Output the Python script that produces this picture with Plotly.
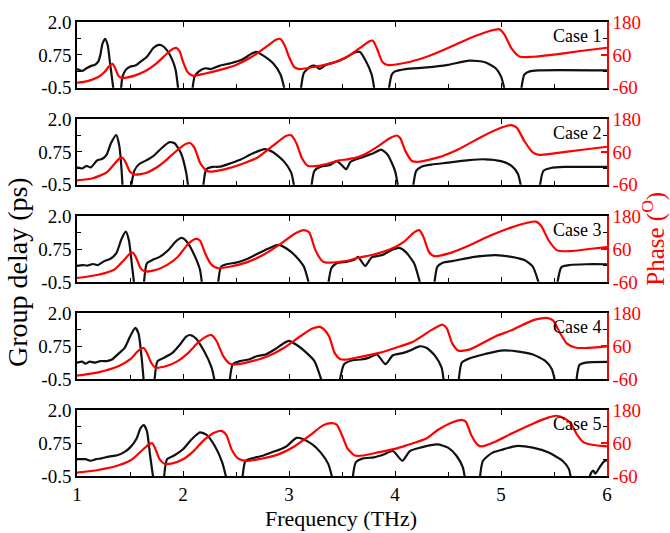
import plotly.graph_objects as go

# ---------------- data ----------------
freq_ticks = [1, 2, 3, 4, 5, 6]
gd_ticks = [-0.5, 0.75, 2.0]
gd_ticktext = ["-0.5", "0.75", "2.0"]
ph_ticks = [-60, 60, 180]
case_labels = ["Case 1", "Case 2", "Case 3", "Case 4", "Case 5"]

N = (None, None)

gd1 = [(1.00,0.21),(1.05,0.14),(1.09,0.24),(1.14,0.34),(1.17,0.37),(1.20,0.49),(1.22,0.74),(1.24,1.17),(1.266,1.36),(1.29,1.11),(1.31,0.49),(1.33,-0.13),(1.345,-0.6),N,
       (1.414,-0.6),(1.43,-0.07),(1.46,0.18),(1.50,0.30),(1.55,0.34),(1.60,0.49),(1.66,0.68),(1.72,1.01),(1.77,1.13),(1.80,1.11),(1.85,0.92),(1.90,0.55),(1.93,0.18),(1.956,-0.6),N,
       (2.088,-0.6),(2.11,-0.07),(2.15,0.12),(2.21,0.24),(2.26,0.21),(2.35,0.34),(2.45,0.43),(2.55,0.55),(2.65,0.80),(2.69,0.86),(2.75,0.74),(2.85,0.43),(2.92,0.0),(2.96,-0.6),N,
       (3.111,-0.6),(3.14,0.06),(3.20,0.30),(3.24,0.34),(3.29,0.22),(3.35,0.37),(3.45,0.49),(3.55,0.68),(3.62,0.84),(3.67,0.86),(3.72,0.55),(3.78,0.0),(3.807,-0.6),N,
       (3.94,-0.6),(3.97,0.0),(4.0,0.12),(4.1,0.21),(4.3,0.27),(4.5,0.37),(4.7,0.53),(4.85,0.47),(4.95,0.24),(5.0,-0.07),(5.036,-0.6),N,
       (5.19,-0.6),(5.22,0.0),(5.27,0.12),(5.35,0.16),(6.0,0.16)]
ph1 = [(1.0,-42),(1.10,-36),(1.20,-21),(1.26,-3),(1.30,17),(1.335,27),(1.36,11),(1.39,-16),(1.42,-24),(1.48,-22),(1.55,-15),(1.65,2),(1.75,29),(1.85,65),(1.91,83),(1.94,85),(1.97,71),(2.00,35),(2.04,-1),(2.09,-16),
       (2.20,-9),(2.35,5),(2.50,23),(2.65,53),(2.80,94),(2.88,116),(2.92,118),(2.96,94),(3.00,53),(3.05,15),(3.10,8),(3.25,17),(3.40,29),(3.55,53),(3.70,94),(3.76,110),(3.79,112),(3.83,83),(3.88,35),(3.93,23),
       (4.1,31),(4.3,53),(4.5,85),(4.7,120),(4.90,148),(4.98,154),(5.03,136),(5.10,83),(5.18,53),(5.3,53),(5.5,61),(5.75,74),(6.0,86)]

gd2 = [(1.0,0.16),(1.05,0.12),(1.09,0.22),(1.13,0.16),(1.19,0.43),(1.24,0.49),(1.28,0.65),(1.32,1.08),(1.37,1.39),(1.40,0.96),(1.42,0.09),(1.43,-0.6),N,
       (1.51,-0.6),(1.54,0.03),(1.59,0.30),(1.64,0.40),(1.72,0.59),(1.80,0.90),(1.87,1.12),(1.92,1.08),(1.98,0.71),(2.03,-0.03),(2.05,-0.6),N,
       (2.19,-0.6),(2.22,0.09),(2.28,0.18),(2.35,0.19),(2.45,0.32),(2.55,0.47),(2.65,0.68),(2.77,0.86),(2.85,0.74),(2.95,0.40),(3.02,-0.03),(3.05,-0.6),N,
       (3.21,-0.6),(3.24,0.03),(3.30,0.19),(3.38,0.24),(3.45,0.40),(3.50,0.24),(3.54,0.09),(3.58,0.37),(3.68,0.53),(3.80,0.71),(3.87,0.84),(3.93,0.65),(4.00,0.03),(4.03,-0.6),N,
       (4.17,-0.6),(4.20,0.03),(4.25,0.19),(4.35,0.27),(4.50,0.34),(4.70,0.44),(4.85,0.47),(5.0,0.40),(5.10,0.22),(5.16,-0.09),(5.19,-0.6),N,
       (5.365,-0.6),(5.40,0.03),(5.47,0.14),(5.6,0.18),(6.0,0.18)]
ph2 = [(1.0,-44),(1.15,-36),(1.28,-15),(1.35,15),(1.40,36),(1.43,39),(1.46,21),(1.50,-12),(1.55,-23),(1.65,-17),(1.75,3),(1.85,33),(1.95,68),(2.03,90),(2.07,92),(2.11,74),(2.16,21),(2.22,-9),(2.27,-12),
       (2.40,-3),(2.55,15),(2.70,39),(2.85,83),(2.97,118),(3.02,121),(3.07,92),(3.12,39),(3.18,9),(3.30,11),(3.40,21),(3.47,29),(3.55,33),(3.65,41),(3.75,59),(3.85,83),(3.95,110),(4.02,120),(4.05,110),(4.10,62),(4.16,27),(4.22,24),
       (4.40,39),(4.60,70),(4.80,112),(5.00,148),(5.10,158),(5.15,148),(5.22,100),(5.30,58),(5.36,49),(5.50,55),(5.75,67),(6.0,79)]

gd3 = [(1.0,0.11),(1.05,0.14),(1.10,0.12),(1.15,0.18),(1.20,0.14),(1.25,0.27),(1.32,0.39),(1.37,0.58),(1.42,1.13),(1.46,1.41),(1.49,1.07),(1.52,0.08),(1.54,-0.6),N,
       (1.63,-0.6),(1.66,0.21),(1.71,0.33),(1.78,0.45),(1.86,0.70),(1.94,1.07),(1.99,1.17),(2.04,1.01),(2.10,0.58),(2.16,-0.04),(2.18,-0.6),N,
       (2.33,-0.6),(2.36,0.08),(2.42,0.18),(2.50,0.23),(2.58,0.33),(2.68,0.52),(2.80,0.76),(2.90,0.91),(2.98,0.76),(3.07,0.45),(3.14,0.08),(3.19,-0.6),N,
       (3.37,-0.6),(3.40,0.02),(3.45,0.21),(3.55,0.27),(3.62,0.35),(3.65,0.45),(3.72,0.11),(3.78,0.43),(3.88,0.52),(3.98,0.73),(4.04,0.79),(4.10,0.64),(4.18,0.21),(4.24,-0.6),N,
       (4.37,-0.6),(4.40,0.08),(4.45,0.23),(4.55,0.30),(4.75,0.45),(4.95,0.52),(5.10,0.45),(5.22,0.33),(5.30,0.08),(5.36,-0.6),N,
       (5.53,-0.6),(5.57,0.06),(5.65,0.14),(5.8,0.17),(6.0,0.17)]
ph3 = [(1.0,-46),(1.20,-34),(1.35,-16),(1.43,14),(1.50,43),(1.53,46),(1.56,26),(1.60,-10),(1.64,-22),(1.75,-16),(1.85,2),(1.95,31),(2.05,79),(2.12,97),(2.16,91),(2.21,43),(2.27,2),(2.33,-10),
       (2.45,-4),(2.60,11),(2.75,37),(2.90,73),(3.05,115),(3.14,129),(3.19,121),(3.25,55),(3.32,14),(3.38,10),(3.55,17),(3.65,28),(3.80,40),(3.95,58),(4.08,85),(4.18,121),(4.23,129),(4.27,103),(4.32,49),(4.37,34),
       (4.50,43),(4.70,73),(4.90,109),(5.10,139),(5.25,156),(5.33,160),(5.38,144),(5.45,91),(5.53,55),(5.65,52),(5.85,61),(6.0,67)]

gd4 = [(1.0,0.12),(1.05,0.16),(1.08,0.08),(1.12,0.16),(1.17,0.12),(1.22,0.18),(1.28,0.18),(1.33,0.24),(1.40,0.49),(1.45,0.68),(1.50,1.11),(1.55,1.44),(1.58,1.23),(1.61,0.30),(1.63,-0.6),N,
       (1.73,-0.6),(1.76,0.18),(1.82,0.30),(1.90,0.49),(1.97,0.80),(2.03,1.11),(2.07,1.17),(2.12,1.05),(2.20,0.55),(2.27,-0.07),(2.30,-0.6),N,
       (2.44,-0.6),(2.47,0.06),(2.54,0.18),(2.62,0.24),(2.70,0.37),(2.78,0.43),(2.86,0.61),(2.95,0.86),(3.00,0.95),(3.07,0.80),(3.15,0.55),(3.24,0.18),(3.31,-0.6),N,
       (3.477,-0.6),(3.52,0.06),(3.60,0.21),(3.68,0.24),(3.75,0.30),(3.83,0.43),(3.91,0.06),(3.98,0.40),(4.08,0.49),(4.16,0.61),(4.23,0.74),(4.30,0.68),(4.38,0.37),(4.44,-0.07),(4.46,-0.6),N,
       (4.60,-0.6),(4.63,0.12),(4.70,0.28),(4.85,0.45),(5.00,0.58),(5.15,0.55),(5.30,0.43),(5.42,0.18),(5.48,-0.13),(5.51,-0.6),N,
       (5.71,-0.6),(5.74,0.03),(5.80,0.12),(6.0,0.15)]
ph4 = [(1.0,-48),(1.20,-36),(1.40,-12),(1.50,11),(1.58,43),(1.63,53),(1.66,35),(1.70,-1),(1.74,-19),(1.85,-12),(1.95,5),(2.05,35),(2.15,76),(2.23,97),(2.27,100),(2.32,76),(2.38,23),(2.44,-4),(2.50,-7),
       (2.65,5),(2.80,23),(2.95,53),(3.10,94),(3.22,124),(3.29,130),(3.33,121),(3.38,94),(3.43,35),(3.48,13),(3.55,11),(3.65,19),(3.85,35),(4.00,53),(4.17,76),(4.35,120),(4.45,138),(4.49,124),(4.54,70),(4.60,43),
       (4.70,47),(4.95,96),(5.10,118),(5.30,154),(5.43,163),(5.49,154),(5.56,106),(5.62,70),(5.70,55),(5.80,53),(6.0,59)]

gd5 = [(1.0,0.14),(1.08,0.14),(1.13,0.08),(1.18,0.14),(1.23,0.17),(1.30,0.24),(1.38,0.29),(1.45,0.42),(1.50,0.58),(1.56,0.91),(1.60,1.32),(1.63,1.44),(1.66,1.20),(1.69,0.27),(1.72,-0.6),N,
       (1.82,-0.6),(1.85,0.14),(1.92,0.29),(2.00,0.52),(2.08,0.89),(2.16,1.16),(2.22,1.07),(2.30,0.64),(2.37,0.02),(2.41,-0.6),N,
       (2.56,-0.6),(2.59,0.08),(2.65,0.17),(2.75,0.27),(2.85,0.42),(2.92,0.52),(2.98,0.64),(3.07,0.95),(3.13,0.91),(3.22,0.70),(3.30,0.39),(3.37,-0.04),(3.41,-0.6),N,
       (3.60,-0.6),(3.63,0.02),(3.70,0.17),(3.80,0.21),(3.90,0.33),(3.98,0.45),(4.07,0.08),(4.14,0.45),(4.24,0.58),(4.40,0.70),(4.50,0.58),(4.58,0.27),(4.64,-0.17),(4.66,-0.6),N,
       (4.80,-0.6),(4.83,0.08),(4.92,0.39),(5.00,0.49),(5.14,0.64),(5.30,0.58),(5.45,0.39),(5.58,0.08),(5.64,-0.23),(5.66,-0.6),N,
       (5.83,-0.6),(5.85,-0.38),(5.87,-0.29),(5.89,-0.41),(5.93,-0.17),(5.97,0.05),(6.0,0.11)]
ph5 = [(1.0,-48),(1.20,-38),(1.40,-20),(1.52,1),(1.62,36),(1.68,56),(1.71,60),(1.74,39),(1.78,1),(1.83,-16),(1.90,-14),(2.00,1),(2.10,31),(2.20,72),(2.30,99),(2.37,104),(2.41,89),(2.46,36),(2.52,4),(2.59,-5),
       (2.75,4),(2.90,19),(3.05,48),(3.20,89),(3.32,125),(3.40,133),(3.45,128),(3.50,89),(3.55,42),(3.62,15),(3.70,15),(3.85,27),(4.00,39),(4.10,51),(4.30,78),(4.40,107),(4.55,137),(4.63,145),(4.67,137),(4.72,89),(4.78,54),(4.82,48),
       (4.95,66),(5.10,95),(5.30,131),(5.45,154),(5.52,160),(5.60,150),(5.66,131),(5.72,89),(5.78,63),(5.86,54),(6.0,48)]

group_delay = [gd1, gd2, gd3, gd4, gd5]
phase = [ph1, ph2, ph3, ph4, ph5]

# ---------------- figure ----------------
FONT = "'Liberation Serif', 'Times New Roman', Times, serif"
RED = "#ff0000"
W, H = 670, 533
ML, MR, MT, MB = 77, 63, 13, 57
PW, PH = W - ML - MR, H - MT - MB
PANEL_H = 67
PITCH = 99

def ypaper(py):
    return (H - MB - py) / PH

def xpaper(px):
    return (px - ML) / PW

fig = go.Figure()
layout = {}

for i in range(5):
    n = i + 1
    xs = "x" if n == 1 else f"x{n}"
    xt = f"x{5+n}"
    yl = "y" if n == 1 else f"y{2*n-1}"
    yr = f"y{2*n}"
    xname = "xaxis" if n == 1 else f"xaxis{n}"
    ylname = "yaxis" if n == 1 else f"yaxis{2*n-1}"
    yrname = f"yaxis{2*n}"
    xtopname = f"xaxis{5+n}"
    top = MT + PITCH * i
    dom = [ypaper(top + PANEL_H), ypaper(top)]

    gx = [p[0] for p in group_delay[i]]
    gy = [p[1] for p in group_delay[i]]
    px_ = [p[0] for p in phase[i]]
    py_ = [p[1] for p in phase[i]]

    fig.add_trace(go.Scatter(x=gx, y=gy, xaxis=xs, yaxis=yl, mode="lines",
                             line=dict(color="#111111", width=2.2, shape="spline", smoothing=0.6),
                             connectgaps=False, showlegend=False, hoverinfo="skip"))
    fig.add_trace(go.Scatter(x=px_, y=py_, xaxis=xt, yaxis=yr, mode="lines",
                             line=dict(color=RED, width=2.2, shape="spline", smoothing=0.6),
                             showlegend=False, hoverinfo="skip"))

    layout[xname] = dict(
        domain=[0, 1], anchor=yl, range=[1, 6], showgrid=False, zeroline=False,
        showline=True, linecolor="black", linewidth=1.5, mirror=True,
        ticks="inside", ticklen=5, tickcolor="black", tickwidth=1.2,
        tickvals=freq_ticks, ticktext=[str(v) for v in freq_ticks],
        showticklabels=(n == 5),
        minor=dict(dtick=0.5, ticks="inside", ticklen=4, tickcolor="black"),
        tickfont=dict(family=FONT, size=19, color="black"),
    )
    if n > 1:
        layout[xname]["matches"] = "x"
    # top-edge ticks (integers only), as in the reference
    layout[xtopname] = dict(
        overlaying=xs, side="top", anchor=yl, range=[1, 6], showgrid=False, zeroline=False,
        showline=False, ticks="inside", ticklen=5, tickcolor="black", tickwidth=1.2,
        tickvals=freq_ticks, showticklabels=False,
    )
    layout[ylname] = dict(
        domain=dom, anchor=xs, range=[-0.5, 2.0], showgrid=False, zeroline=False,
        showline=True, linecolor="black", linewidth=1.5, mirror="ticks",
        ticks="inside", ticklen=5, tickcolor="black", tickwidth=1.2,
        tickvals=gd_ticks, ticktext=gd_ticktext,
        minor=dict(tickvals=[0.125, 1.375], ticks="inside", ticklen=4, tickcolor="black"),
        tickfont=dict(family=FONT, size=19, color="black"),
    )
    layout[yrname] = dict(
        overlaying=yl, side="right", anchor=xs, range=[-60, 180], showgrid=False, zeroline=False,
        showline=True, linecolor=RED, linewidth=1.5,
        ticks="inside", ticklen=6, tickcolor=RED, tickwidth=1.5,
        tickvals=ph_ticks, ticktext=[str(v) for v in ph_ticks],
        tickfont=dict(family=FONT, size=19, color=RED),
    )

annotations = []
for i in range(5):
    top = MT + PITCH * i
    annotations.append(dict(text=case_labels[i], xref="paper", yref="paper",
                            x=xpaper(604), y=ypaper(top + 2), xanchor="right", yanchor="top",
                            showarrow=False, font=dict(family=FONT, size=18, color="black")))
annotations.append(dict(text="Group delay (ps)", xref="paper", yref="paper",
                        x=xpaper(17), y=ypaper(268), xanchor="center", yanchor="middle",
                        textangle=-90, showarrow=False, font=dict(family=FONT, size=28, color="black")))
annotations.append(dict(text="Phase (<sup>O</sup>)", xref="paper", yref="paper",
                        x=xpaper(654), y=ypaper(234), xanchor="center", yanchor="middle",
                        textangle=-90, showarrow=False, font=dict(family=FONT, size=25, color=RED)))
annotations.append(dict(text="Frequency (THz)", xref="paper", yref="paper",
                        x=xpaper(341), y=ypaper(519), xanchor="center", yanchor="middle",
                        showarrow=False, font=dict(family=FONT, size=22, color="black")))

fig.update_layout(
    width=W, height=H,
    margin=dict(l=ML, r=MR, t=MT, b=MB),
    paper_bgcolor="white", plot_bgcolor="white",
    font=dict(family=FONT),
    annotations=annotations,
    **layout,
)

fig.write_html("out.html")
